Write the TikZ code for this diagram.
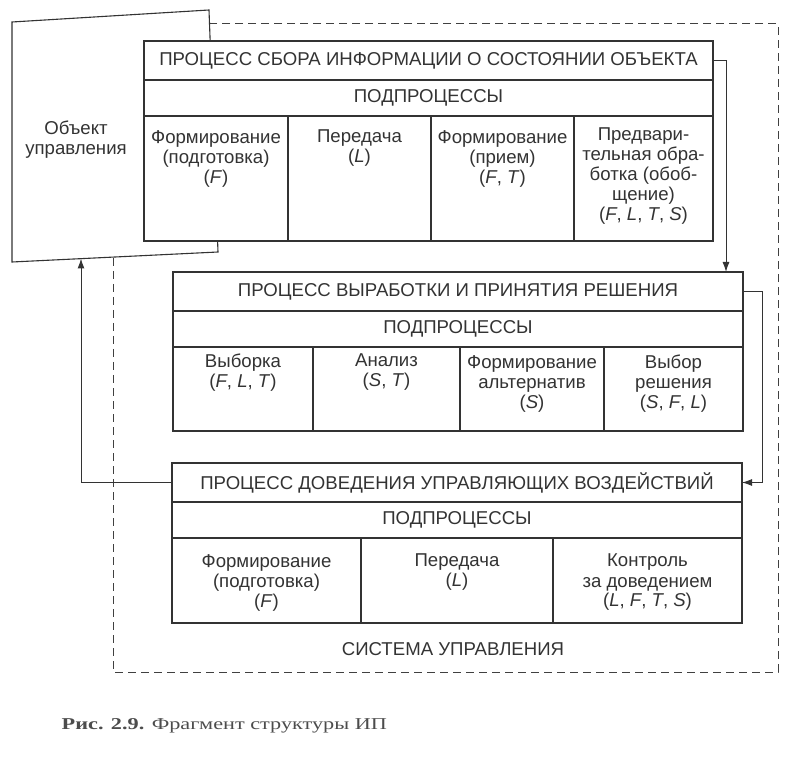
\documentclass[tikz,border=0pt]{standalone}
\usepackage{fontspec}
\setmainfont{Liberation Sans}
\newfontfamily\capfont{Liberation Serif}
\usetikzlibrary{positioning,arrows.meta}

\begin{document}
\begin{tikzpicture}[
    x=1pt, y=-1pt,
    font=\fontsize{18.6}{20}\selectfont,
    every node/.style={text=black!80},
    row/.style={draw=black!80, fill=white, line width=1.1pt, outer sep=0pt, inner sep=0pt, minimum height=39pt},
    cell/.style={draw=black!80, fill=white, line width=1.1pt, outer sep=0pt, inner sep=0pt},
    celltext/.style={align=center, inner sep=0pt},
    arrow/.style={-{Latex[length=10pt,width=7pt]}, line width=1pt, draw=black!80},
    frame/.style={draw=black!75, line width=1pt, dash pattern=on 8pt off 5pt}
  ]
    \useasboundingbox (0,0) rectangle (798,767);

    % system boundary and controlled object
    \draw[frame] (113,24) rectangle (778,672);
    \node (sys) at (453,649) {СИСТЕМА УПРАВЛЕНИЯ};
    \draw[cell] (12,22) -- (209,10) -- (218,252) -- (12,262) -- cycle;
    \node[celltext] (obj) at (76,140) {Объект\\управления};

    % information gathering
    \node[row, minimum width=569pt, anchor=north west] (p1t) at (144,41) {ПРОЦЕСС СБОРА ИНФОРМАЦИИ О СОСТОЯНИИ ОБЪЕКТА};
    \node[row, minimum width=569pt, minimum height=36pt, below=0pt of p1t] (p1s) {ПОДПРОЦЕССЫ};
    \node[cell, minimum width=144pt, minimum height=125pt, below right=0pt and 0pt of p1s.south west] (a1) {};
    \node[cell, minimum width=143pt, minimum height=125pt, right=0pt of a1] (a2) {};
    \node[cell, minimum width=143pt, minimum height=125pt, right=0pt of a2] (a3) {};
    \node[cell, minimum width=139pt, minimum height=125pt, right=0pt of a3] (a4) {};
    \node[celltext, below=14pt of a1.north] (a1x) {Формирование\\(подготовка)\\(\textit{F})};
    \node[celltext, below=14pt of a2.north] (a2x) {Передача\\(\textit{L})};
    \node[celltext, below=14pt of a3.north] (a3x) {Формирование\\(прием)\\(\textit{F}, \textit{T})};
    \node[celltext, below=12pt of a4.north] (a4x) {Предвари-\\тельная обра-\\ботка (обоб-\\щение)\\(\textit{F}, \textit{L}, \textit{T}, \textit{S})};

    % decision making
    \node[row, minimum width=570pt, anchor=north west] (p2t) at (173,272) {ПРОЦЕСС ВЫРАБОТКИ И ПРИНЯТИЯ РЕШЕНИЯ};
    \node[row, minimum width=570pt, minimum height=36pt, below=0pt of p2t] (p2s) {ПОДПРОЦЕССЫ};
    \node[cell, minimum width=140pt, minimum height=84pt, below right=0pt and 0pt of p2s.south west] (b1) {};
    \node[cell, minimum width=147pt, minimum height=84pt, right=0pt of b1] (b2) {};
    \node[cell, minimum width=144pt, minimum height=84pt, right=0pt of b2] (b3) {};
    \node[cell, minimum width=139pt, minimum height=84pt, right=0pt of b3] (b4) {};
    \node[celltext, below=7pt of b1.north] (b1x) {Выборка\\(\textit{F}, \textit{L}, \textit{T})};
    \node[celltext, below=7pt of b2.north] (b2x) {Анализ\\(\textit{S}, \textit{T})};
    \node[celltext, below=8pt of b3.north] (b3x) {Формирование\\альтернатив\\(\textit{S})};
    \node[celltext, below=8pt of b4.north] (b4x) {Выбор\\решения\\(\textit{S}, \textit{F}, \textit{L})};

    % delivering control actions
    \node[row, minimum width=570pt, anchor=north west] (p3t) at (172,463) {ПРОЦЕСС ДОВЕДЕНИЯ УПРАВЛЯЮЩИХ ВОЗДЕЙСТВИЙ};
    \node[row, minimum width=570pt, minimum height=36pt, below=0pt of p3t] (p3s) {ПОДПРОЦЕССЫ};
    \node[cell, minimum width=189pt, minimum height=85pt, below right=0pt and 0pt of p3s.south west] (c1) {};
    \node[cell, minimum width=192pt, minimum height=85pt, right=0pt of c1] (c2) {};
    \node[cell, minimum width=189pt, minimum height=85pt, right=0pt of c2] (c3) {};
    \node[celltext, below=16pt of c1.north] (c1x) {Формирование\\(подготовка)\\(\textit{F})};
    \node[celltext, below=16pt of c2.north] (c2x) {Передача\\(\textit{L})};
    \node[celltext, below=16pt of c3.north] (c3x) {Контроль\\за доведением\\(\textit{L}, \textit{F}, \textit{T}, \textit{S})};

    % flows
    \coordinate (p2in) at (726,272);
    \coordinate (objin) at (81,258.5);
    \draw[arrow] (p1t.east) -| (p2in);
    \draw[arrow] (p2t.east) -- ++(19,0) |- (p3t.east);
    \draw[arrow] (p3t.west) -| (objin);

    \node[anchor=base west, text=black!70, font=\capfont\fontsize{16.6}{18}\selectfont, xscale=1.34, transform shape] (cap) at (57,729) {\textbf{Рис. 2.9.} Фрагмент структуры ИП};
\end{tikzpicture}
\end{document}
